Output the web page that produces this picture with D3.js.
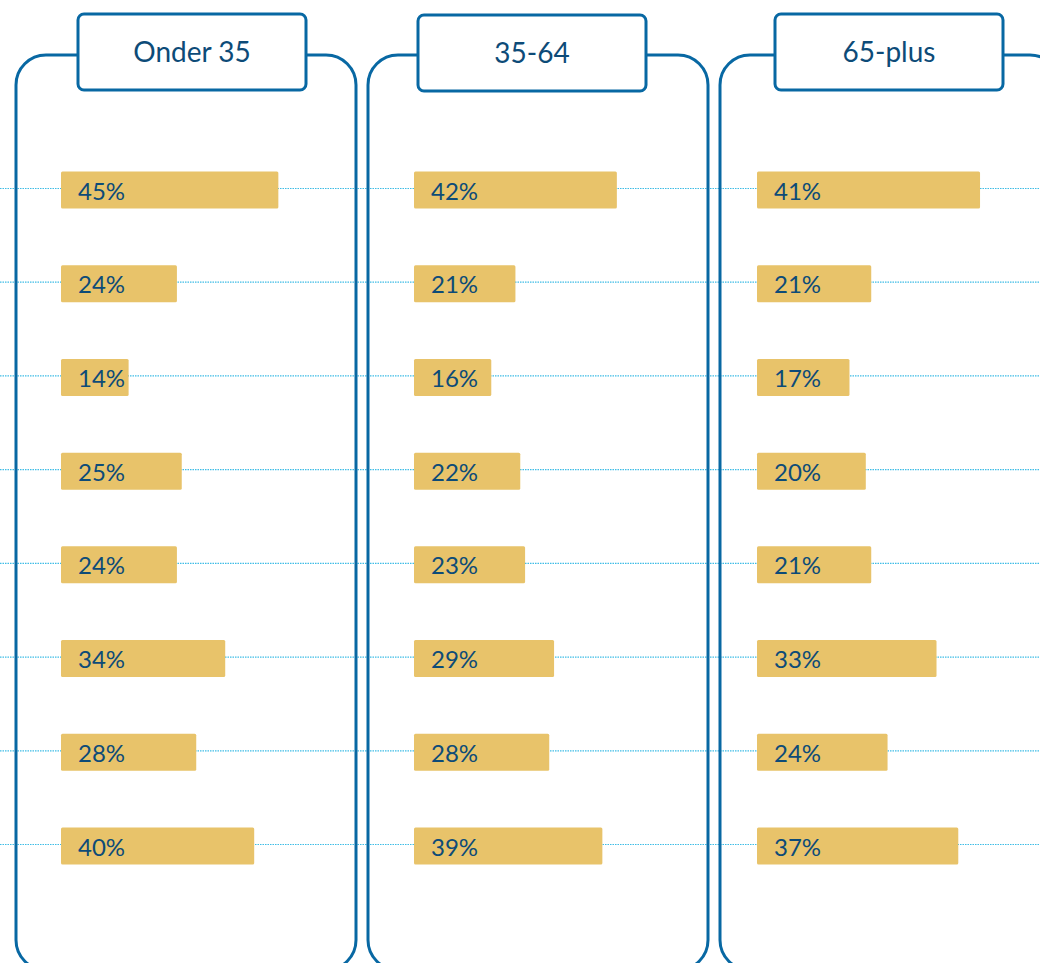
<!DOCTYPE html>
<html>
<head>
<meta charset="utf-8">
<script src="https://cdn.jsdelivr.net/npm/d3@7"></script>
<style>
  html, body { margin: 0; padding: 0; background: #ffffff; overflow: hidden; }
  svg { display: block; }
</style>
</head>
<body>
<svg id="chart" width="1040" height="963"></svg>
<script>
// ---- data ----
const groups = ["Onder 35", "35-64", "65-plus"];
const items = ["item1", "item2", "item3", "item4", "item5", "item6", "item7", "item8"];
const valuesOnder35 = [45, 24, 14, 25, 24, 34, 28, 40];
const values35to64 = [42, 21, 16, 22, 23, 29, 28, 39];
const values65plus = [41, 21, 17, 20, 21, 33, 24, 37];
const seriesValues = [valuesOnder35, values35to64, values65plus];

// ---- layout ----
const W = 1040, H = 963;
const panelX0 = 16, panelStep = 352, panelW = 340;
const panelTop = 55, panelBottom = 970, panelR = 30;
const headerOffsetX = [62, 50, 55], headerW = 228, headerTop = [14, 15, 14], headerH = 76;
const barOffsetX = [45, 46, 37], barH = 37;
const panelScaleWidth = [483, 483, 544]; // px for 100%
const blue = "#0868a3";
const textBlue = "#0d4b78";
const barColor = "#e8c36a";
const dotColor = "#3fbde6";
const font = "Lato, 'Open Sans', sans-serif";

const svg = d3.select("#chart");

const y = d3.scalePoint().domain(items).range([191, 847]);
const xPanel = d3.scaleLinear().domain([0, groups.length]).range([panelX0, panelX0 + panelStep * groups.length]);

// dotted guide lines across full width
svg.append("g").selectAll("line").data(items).join("line")
  .attr("x1", 0).attr("x2", W)
  .attr("y1", d => y(d) - 2.5).attr("y2", d => y(d) - 2.5)
  .attr("stroke", dotColor).attr("stroke-width", 1.2)
  .attr("stroke-dasharray", "1.5,1");

groups.forEach((g, gi) => {
  const px = xPanel(gi);
  const pg = svg.append("g");

  // panel outline
  pg.append("rect")
    .attr("x", px).attr("y", panelTop)
    .attr("width", panelW).attr("height", panelBottom - panelTop)
    .attr("rx", panelR).attr("ry", panelR)
    .attr("fill", "none").attr("stroke", blue).attr("stroke-width", 3);

  // header box
  pg.append("rect")
    .attr("x", px + headerOffsetX[gi]).attr("y", headerTop[gi])
    .attr("width", headerW).attr("height", headerH)
    .attr("rx", 6).attr("ry", 6)
    .attr("fill", "#ffffff").attr("stroke", blue).attr("stroke-width", 3);

  pg.append("text")
    .attr("x", px + headerOffsetX[gi] + headerW / 2)
    .attr("y", headerTop[gi] + headerH / 2 - 1)
    .attr("text-anchor", "middle").attr("dominant-baseline", "central")
    .attr("font-family", font).attr("font-size", 28)
    .attr("fill", textBlue)
    .text(g);

  const x = d3.scaleLinear().domain([0, 100]).range([px + barOffsetX[gi], px + barOffsetX[gi] + panelScaleWidth[gi]]);
  const data = items.map((it, i) => ({ item: it, value: seriesValues[gi][i] }));

  pg.append("g").selectAll("rect").data(data).join("rect")
    .attr("x", x(0)).attr("y", d => y(d.item) - barH / 2 - 1)
    .attr("width", d => x(d.value) - x(0)).attr("height", barH)
    .attr("rx", 1.5).attr("ry", 1.5)
    .attr("fill", barColor);

  pg.append("g").selectAll("text").data(data).join("text")
    .attr("x", x(0) + 17).attr("y", d => y(d.item) - 1)
    .attr("dominant-baseline", "central")
    .attr("font-family", font).attr("font-size", 24)
    .attr("fill", textBlue)
    .text(d => d.value + "%");
});
</script>
</body>
</html>
